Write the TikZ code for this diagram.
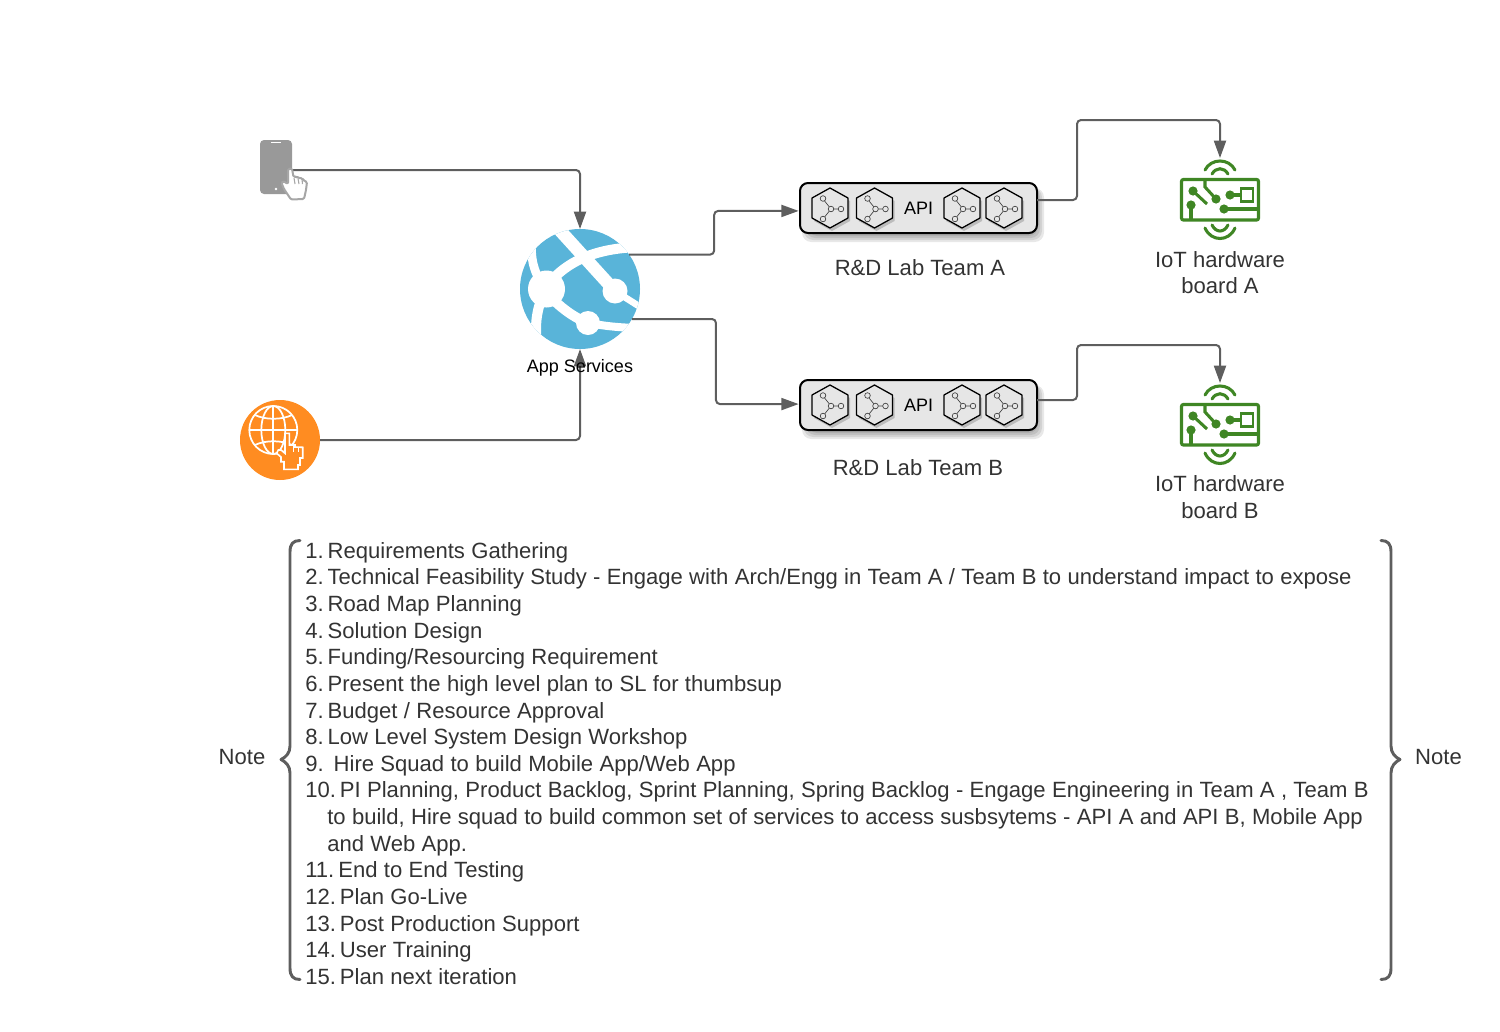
\documentclass[tikz,border=0pt]{standalone}
\usepackage{fontspec}
\setmainfont{Liberation Sans}
\usetikzlibrary{arrows.meta}
\definecolor{conn}{HTML}{5E5E5E}
\definecolor{txt}{HTML}{333333}
\definecolor{azure}{HTML}{59B4D9}
\definecolor{webor}{HTML}{FF8C21}
\definecolor{iotg}{HTML}{3F8624}
\definecolor{boxg}{HTML}{E6E6E6}
\tikzset{
  x=0.75pt,y=-0.75pt,
  connector/.style={draw=conn,line width=1.5pt,rounded corners=3pt,-{Triangle[length=13pt,width=9pt]}},
  plainlabel/.style={font=\fontsize{16.55}{19.97}\selectfont,text=txt,align=center,inner sep=0pt},
  anchorbox/.style={inner sep=0pt,outer sep=0pt,minimum width=#1},
  apinode/.style={draw=black,line width=1.5pt,rounded corners=6pt,fill=boxg,inner sep=0pt,outer sep=0pt,
    minimum width=177.75pt,minimum height=37.5pt,font=\fontsize{13.5}{16}\selectfont,text=black},
  brace/.style={draw=conn,line width=2.2pt,line cap=round,line join=round},
  trace/.style={draw=iotg,line width=2.3pt},
  dot/.style={fill=iotg},
}
\newcommand{\hexicon}[1]{%
  \begin{scope}[shift={(#1,0)}]
    \fill[black,opacity=.18] (2,-17)--(20,-7)--(20,13)--(2,23)--(-16,13)--(-16,-7)--cycle;
    \draw[black,line width=.95pt,line join=round,fill=boxg] (0,-20)--(18,-10)--(18,10)--(0,20)--(-18,10)--(-18,-10)--cycle;
    \draw[black!75,line width=.5pt] (1,1)--(-7,-9) (1,1)--(9,1) (1,1)--(-7,11);
    \draw[black!75,line width=.5pt,fill=boxg] (1,1) circle (2.8) (-7,-9.5) circle (2.8) (11,1) circle (2.8) (-7,11) circle (2.8);
  \end{scope}}
\newcommand{\apibox}[3]{%
  \begin{scope}[shift={(#2,#3)}]
    \foreach \g in {0,2,4,6}{
      \fill[black,opacity=.09,rounded corners=7pt] (-110.5-\g,-20) rectangle (119.5+\g,28+\g);}
    \node[apinode] (#1) at (0,0) {\raisebox{-1.5pt}{API}};
    \hexicon{-88.5}\hexicon{-44}\hexicon{43.5}\hexicon{85.5}
  \end{scope}}
\newcommand{\ioticon}[3]{%
  \node[anchorbox=60pt,minimum height=63pt] (#1) at (#2,#3) {};
  \begin{scope}[shift={(#2,#3)}]
    \draw[trace,line width=2.4pt,rounded corners=1.5pt] (-38.5,-20.5) rectangle (38.5,20);
    \draw[trace,line cap=round] (-15,-30) .. controls (-9,-42) and (9,-42) .. (15,-30);
    \draw[trace,line cap=round] (-8,-26) .. controls (-4,-33) and (4,-33) .. (8,-26);
    \draw[trace,line cap=round] (-15,28) .. controls (-9,42) and (9,42) .. (15,28);
    \draw[trace,line cap=round] (-8,25) .. controls (-4,33) and (4,33) .. (8,25);
    \draw[trace] (-15,-21) -- (-15,-13) -- (-4,-1);
    \draw[trace] (-27,-9) -- (-13,4);
    \draw[trace] (-29,5) -- (-29,20);
    \draw[trace] (10,-5) -- (21,-5);
    \draw[trace,line width=2pt] (21,-11.5) rectangle (33,1.5);
    \draw[trace] (4,9) -- (39,9);
    \fill[dot] (-4,-1) circle (4.6) (-27,-9) circle (4.6) (-29,5) circle (4.6) (10,-5) circle (4.6) (4,9) circle (4.6);
  \end{scope}}
\newcommand{\li}[2]{#1\hspace{3pt}#2\\}
\begin{document}
\begin{tikzpicture}
\useasboundingbox (0,0) rectangle (1500,1032);

% phone
\node[anchorbox=24pt,minimum height=40.5pt] (phone) at (276,170) {};
\fill[black!40,rounded corners=3pt] (260,140) rectangle (292,194);
\draw[white,line width=.8pt] (271,142.7) -- (281,142.7);
\fill[white] (276,189) circle (1.4);

% web icon
\node[circle,fill=webor,minimum size=60pt,inner sep=0pt,outer sep=0pt] (web) at (280,440) {};
\begin{scope}[draw=white,line width=1.3pt]
  \draw (273.3,430) circle (24);
  \draw (273.3,430) ellipse (12 and 24);
  \draw (273.3,406) -- (273.3,454);
  \draw (249.3,430) -- (297.3,430);
  \draw (255,415) .. controls (265,420) and (282,420) .. (292,415);
  \draw (255,445) .. controls (265,440) and (282,440) .. (292,445);
\end{scope}
\draw[white,line width=1.2pt,fill=webor] (285,433.3) -- (289.3,433.3) -- (289.3,445) -- (295,445) -- (295,447) -- (302.7,447.3) -- (302.7,458) -- (300,458) -- (300,465) -- (298,465) -- (298,469.3) -- (284,469.3) -- (284,461.7) -- (281,461.7) -- (281,457) -- (276.7,453.3) -- (278.3,450) -- (281,450) -- (285,453.3) -- cycle;
\draw[white,line width=.7pt] (293,446) -- (293,452) (298,447) -- (298,452);

% app services icon
\node[circle,fill=azure,minimum size=90pt,inner sep=0pt,outer sep=0pt] (app) at (580,289) {};
\begin{scope}
  \clip (580,289) circle (60);
  \draw[white,line width=9.5pt,line cap=butt] (555,225) -- (615,291);
  \draw[white,line width=5pt] (615,291) -- (645,310);
  \draw[white,line width=7.5pt] (546,287) .. controls (565,262) and (595,247) .. (645,247);
  \draw[white,line width=7.5pt] (546,292) .. controls (560,308) and (575,318) .. (588,323);
  \draw[white,line width=6pt] (588,323) .. controls (605,326) and (620,328) .. (645,328);
  \draw[white,line width=6.5pt] (532,240) .. controls (530,258) and (534,275) .. (546,289);
  \draw[white,line width=7.5pt] (546,289) .. controls (538,305) and (534,320) .. (537,345);
  \fill[white] (546.5,289) circle (18.5) (615,291) circle (12.5) (588,323) circle (12);
\end{scope}

% api boxes
\apibox{apia}{918.5}{208}
\apibox{apib}{918.5}{405}

% iot icons
\ioticon{iota}{1220}{200}
\ioticon{iotb}{1220}{425}

% connectors
\draw[connector] (phone.east) -| (app.north);
\draw[connector] (web.east) -| (app.south);
\draw[connector] (app.35) -- ++(85,0) |- ([xshift=-1pt,yshift=-2.2pt]apia.west);
\draw[connector] (app.-30) -- ++(84,0) |- ([xshift=-1pt,yshift=.7pt]apib.west);
\draw[connector] ([yshift=6pt]apia.east) -- ++(40,0) -- ++(0,-80) -| (iota.north);
\draw[connector] ([yshift=3.75pt]apib.east) -- ++(40,0) -- ++(0,-55) -| (iotb.north);

% hand on phone (over the line end)
\draw[black!35,fill=white,line width=1.5pt,line join=round,rounded corners=1pt] (288,169) -- (292,168.5) -- (293.5,177) -- (297,176.5) -- (298,178) -- (302,178) -- (303,180) -- (307,182) -- (306,190) -- (304,199) -- (291,199.5) -- (284,189) -- (281.5,183) -- (283,181) -- (288,184) -- cycle;
\draw[black!35,line width=.8pt] (294,178) -- (295,184) (298,178.5) -- (299,184) (302,179) -- (302.5,184);

% labels
\node[font=\fontsize{13.5}{16}\selectfont,text=black,inner sep=0pt] (applabel) at (580,368) {App Services};
\node[plainlabel] (laba) at (920,268) {R\&D Lab Team A};
\node[plainlabel] (labb) at (918,468) {R\&D Lab Team B};
\node[plainlabel] (boarda) at (1220,272.5) {IoT hardware\\board A};
\node[plainlabel] (boardb) at (1220,497) {IoT hardware\\board B};
\node[plainlabel] (notel) at (242,757) {Note};
\node[plainlabel] (noter) at (1438.5,757) {Note};

% list
\node[plainlabel,anchor=north west,align=left,text width=840pt,
  execute at begin node={\spaceskip=4.75pt\relax}] (steps) at (305,542) {%
\li{1.}{Requirements Gathering}
\li{2.}{Technical Feasibility Study - Engage with Arch/Engg in Team A / Team B to understand impact to expose}
\li{3.}{Road Map Planning}
\li{4.}{Solution Design}
\li{5.}{Funding/Resourcing Requirement}
\li{6.}{Present the high level plan to SL for thumbsup}
\li{7.}{Budget / Resource Approval}
\li{8.}{Low Level System Design Workshop}
9.\hspace{7.5pt}Hire Squad to build Mobile App/Web App\\
\li{10.}{PI Planning, Product Backlog, Sprint Planning, Spring Backlog - Engage Engineering in Team A , Team B}
\hspace{16.5pt}to build, Hire squad to build common set of services to access susbsytems - API A and API B, Mobile App\\
\hspace{16.5pt}and Web App.\\
\li{11.}{End to End Testing}
\li{12.}{Plan Go-Live}
\li{13.}{Post Production Support}
\li{14.}{User Training}
15.\hspace{3pt}Plan next iteration};

% braces
\draw[brace] (300,540.5) .. controls (293,540.5) and (290,544) .. (290,552) -- (290,746) .. controls (290,753) and (286,757) .. (281,759.5) .. controls (286,762) and (290,766) .. (290,773) -- (290,968) .. controls (290,976) and (293,979.5) .. (300,979.5);
\draw[brace] (1381,540.5) .. controls (1388,540.5) and (1391,544) .. (1391,552) -- (1391,746) .. controls (1391,753) and (1395,757) .. (1400,759.5) .. controls (1395,762) and (1391,766) .. (1391,773) -- (1391,968) .. controls (1391,976) and (1388,979.5) .. (1381,979.5);
\end{tikzpicture}
\end{document}
